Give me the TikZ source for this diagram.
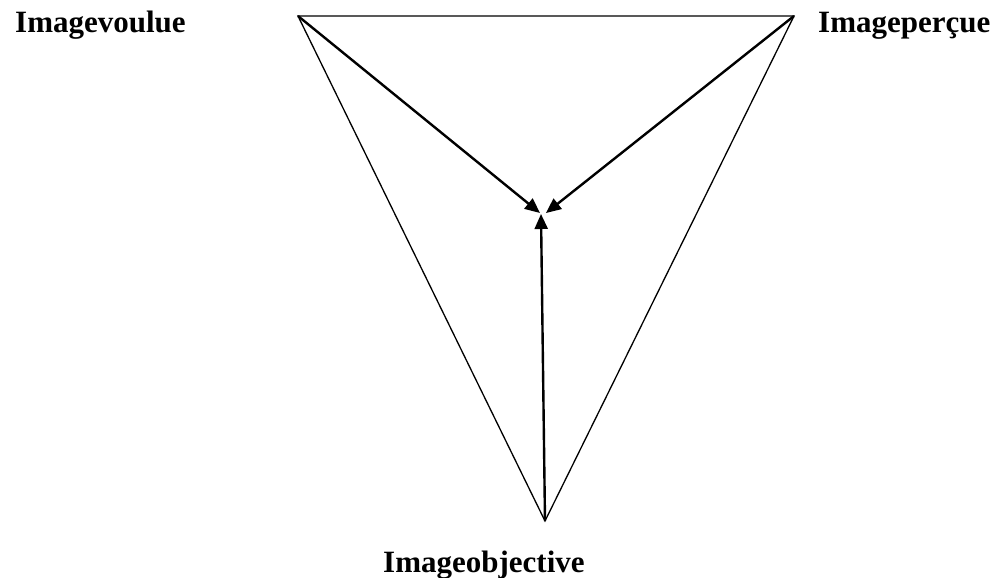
\documentclass[tikz,border=0pt]{standalone}
\usepackage{fontspec}
\setmainfont{Liberation Serif}
\usepackage{tikz}
\usetikzlibrary{arrows.meta, positioning}

\begin{document}
\begin{tikzpicture}[x=1pt, y=-1pt,
		lbl/.style={font=\fontsize{31}{37}\selectfont\bfseries, inner sep=0pt},
		cote/.style={line width=1.3pt},
		fleche/.style={line width=2.4pt, -{Triangle[length=15pt, width=13pt]}}]
		\useasboundingbox (0,0) rectangle (999,578);
		% Sommets du triangle
		\coordinate (voulue) at (298,16);
		\coordinate (percue) at (794,16);
		\coordinate (objective) at (545,521);
		% Points d'arrivee des fleches
		\coordinate (pointV) at (540,213);
		\coordinate (pointP) at (546,213);
		\coordinate (pointO) at (541,214);
		% Etiquettes
		\node[lbl, anchor=base west] (txtV) at (15,33) {Imagevoulue};
		\node[lbl, anchor=base west] (txtP) at (818,33) {Imageperçue};
		\node[lbl, anchor=base west] (txtO) at (383,572) {Imageobjective};
		% Cotes du triangle
		\draw[cote, line join=miter] (voulue) -- (percue) -- (objective) -- cycle;
		% Fleches vers le centre
		\draw[fleche] (voulue) -- (pointV);
		\draw[fleche] (percue) -- (pointP);
		\draw[fleche] (objective) -- (pointO);
	\end{tikzpicture}
\end{document}
